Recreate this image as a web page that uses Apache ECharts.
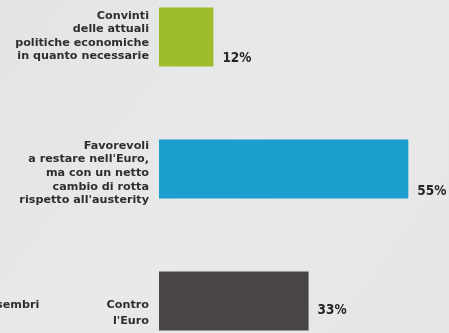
<!DOCTYPE html>
<html>
<head>
<meta charset="utf-8">
<script src="https://cdn.jsdelivr.net/npm/echarts@6/dist/echarts.min.js"></script>
<style>
  html, body { margin: 0; padding: 0; background: #e6e7e7; }
  #chart { width: 449px; height: 333px; }
</style>
</head>
<body>
<div id="chart"></div>
<script>
// Survey answers, top to bottom
const categories = [
  'Convinti\ndelle attuali\npolitiche economiche\nin quanto necessarie',
  "Favorevoli\na restare nell'Euro,\nma con un netto\ncambio di rotta\nrispetto all'austerity",
  "Contro\nl'Euro"
];
const shares = [12, 55, 33];
const barColors = ['#9dbd2c', '#1b9dcd', '#4a4545'];
const valueDrop = [21, 22, 9];
const nameDrop = [-1, 4, 12.5];
const nameLeading = [13.6, 13.6, 16];

const FONT = '"DejaVu Sans", "Liberation Sans", sans-serif';
const NARROW = '"DejaVu Sans Condensed", "Liberation Sans Narrow", sans-serif';

const chart = echarts.init(document.getElementById('chart'));
chart.setOption({
  backgroundColor: {
    type: 'linear', x: 0, y: 0, x2: 1, y2: 1,
    colorStops: [
      { offset: 0, color: '#e3e4e4' },
      { offset: 0.5, color: '#e8e9ea' },
      { offset: 1, color: '#e6e6e5' }
    ]
  },
  animation: false,
  tooltip: { show: false },
  grid: {
    left: 159, top: 37, width: 272, height: 264,
    containLabel: false,
    outerBoundsMode: 'none'
  },
  xAxis: {
    type: 'value', min: 0, max: 60,
    show: false
  },
  yAxis: {
    type: 'category',
    inverse: true,
    boundaryGap: false,
    data: categories,
    axisLine: { show: false },
    axisTick: { show: false },
    splitLine: { show: false },
    axisLabel: { show: false }
  },
  series: [{
    // coloured bars with their percentage on the right
    type: 'bar',
    clip: false,
    barWidth: 59,
    data: shares.map((v, i) => ({
      value: v,
      itemStyle: { color: barColors[i] },
      label: { offset: [0, valueDrop[i]] }
    })),
    label: {
      show: true,
      position: 'right',
      distance: 9,
      formatter: '{c}%',
      fontFamily: NARROW,
      fontWeight: 'bold',
      fontSize: 13.5,
      color: '#262424'
    }
  }, {
    // same bars, unpainted, carrying the answer text on their left side
    type: 'bar',
    clip: false,
    barWidth: 59,
    barGap: '-100%',
    silent: true,
    z: 1,
    data: shares.map((v, i) => ({
      value: v,
      itemStyle: { color: 'rgba(0,0,0,0)' },
      label: { offset: [0, nameDrop[i]], lineHeight: nameLeading[i] }
    })),
    label: {
      show: true,
      position: 'left',
      distance: 10,
      align: 'right',
      formatter: p => categories[p.dataIndex],
      fontFamily: FONT,
      fontWeight: 'bold',
      fontSize: 11.2,
      lineHeight: 13.6,
      color: '#2f2d2d'
    }
  }],
  graphic: [{
    type: 'text',
    left: -4,
    top: 300,
    style: {
      text: 'sembri',
      font: 'bold 11.2px ' + FONT,
      fill: '#2f2d2d'
    }
  }]
});
</script>
</body>
</html>
